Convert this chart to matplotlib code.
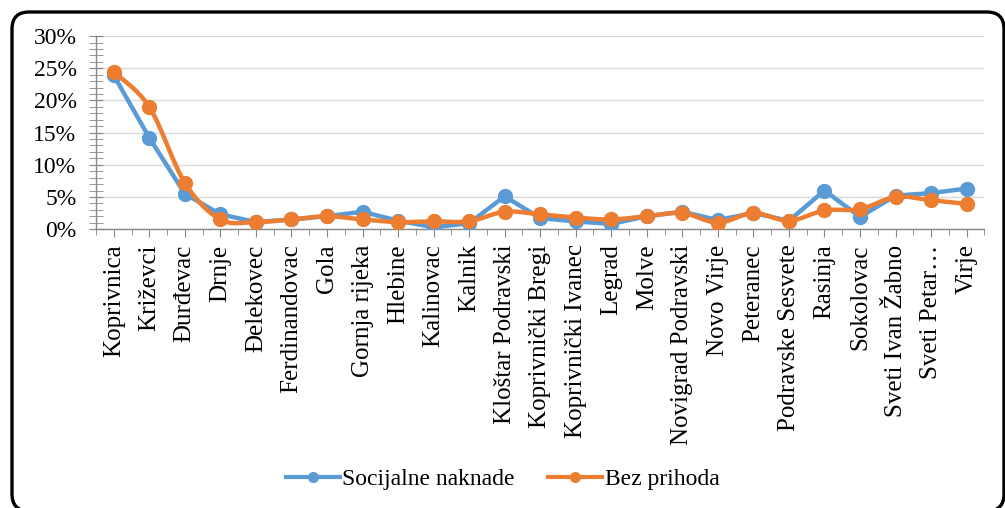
import matplotlib
matplotlib.use("Agg")
import matplotlib.pyplot as plt
from matplotlib.path import Path
from matplotlib.patches import PathPatch, FancyBboxPatch
from matplotlib.lines import Line2D
from matplotlib.ticker import PercentFormatter, MultipleLocator
import numpy as np

# Udio (%) po općinama / gradovima
municipalities = ["Koprivnica", "Križevci", "Đurđevac", "Drnje", "Đelekovec",
                  "Ferdinandovac", "Gola", "Gornja rijeka", "Hlebine", "Kalinovac",
                  "Kalnik", "Kloštar Podravski", "Koprivnički Bregi", "Koprivnički Ivanec",
                  "Legrad", "Molve", "Novigrad Podravski", "Novo Virje", "Peteranec",
                  "Podravske Sesvete", "Rasinja", "Sokolovac", "Sveti Ivan Žabno",
                  "Sveti Petar…", "Virje"]
socijalne = [23.9, 14.2, 5.5, 2.3, 1.1, 1.5, 2.0, 2.7, 1.3, 0.3, 0.9, 5.1, 1.7,
             1.2, 0.8, 2.0, 2.7, 1.4, 2.5, 1.3, 6.0, 1.9, 5.2, 5.6, 6.3]
bez_prihoda = [24.4, 19.0, 7.2, 1.5, 1.1, 1.5, 2.0, 1.5, 1.1, 1.2, 1.2, 2.7, 2.3,
               1.8, 1.5, 2.0, 2.5, 1.0, 2.5, 1.3, 2.9, 3.1, 5.0, 4.5, 3.9]
series_names = ["Socijalne naknade", "Bez prihoda"]

BLUE = "#5B9BD5"
ORANGE = "#ED7D31"

plt.rcParams["font.family"] = ["Liberation Serif", "DejaVu Serif"]


def smooth_path(xs, ys):
    # Excel-like smoothed line: cubic Bezier through the data points
    pts = np.column_stack([xs, ys]).astype(float)
    n = len(pts)
    verts = [pts[0]]
    codes = [Path.MOVETO]
    for i in range(n - 1):
        p0 = pts[max(i - 1, 0)]
        p1 = pts[i]
        p2 = pts[i + 1]
        p3 = pts[min(i + 2, n - 1)]
        c1 = p1 + (p2 - p0) / 6.0
        c2 = p2 - (p3 - p1) / 6.0
        verts += [c1, c2, p2]
        codes += [Path.CURVE4] * 3
    return Path(verts, codes)


fig = plt.figure(figsize=(10.05, 5.08), dpi=100)
ax = fig.add_axes([0.0955, 0.549, 0.884, 0.380])

x = np.arange(len(municipalities))

ax.plot(x, socijalne, color=BLUE, lw=3.2, marker="o", ms=10, zorder=3,
        solid_joinstyle="round", solid_capstyle="round")
ax.add_patch(PathPatch(smooth_path(x, bez_prihoda), facecolor="none",
                       edgecolor=ORANGE, lw=3.2, capstyle="round", zorder=4))
ax.plot(x, bez_prihoda, color=ORANGE, linestyle="none", marker="o", ms=10, zorder=5)

ax.set_xlim(-0.5, len(municipalities) - 0.5)
ax.set_ylim(0, 30)
ax.yaxis.set_major_locator(MultipleLocator(5))
ax.yaxis.set_minor_locator(MultipleLocator(1))
ax.yaxis.set_major_formatter(PercentFormatter(xmax=100, decimals=0))
ax.grid(axis="y", which="major", color="#D9D9D9", lw=1)
ax.set_axisbelow(True)

ax.set_xticks(x)
ax.set_xticks(np.arange(-0.5, len(municipalities)), minor=True)
ax.set_xticklabels(municipalities, rotation=90, fontsize=18)

for s in ["top", "right"]:
    ax.spines[s].set_visible(False)
for s in ["left", "bottom"]:
    ax.spines[s].set_color("#868686")
    ax.spines[s].set_linewidth(1)

ax.tick_params(axis="y", which="both", direction="inout", length=10, color="#868686",
               labelsize=17, pad=9)
ax.tick_params(axis="x", which="major", direction="out", length=6, color="#868686", pad=5)
ax.tick_params(axis="x", which="minor", direction="out", length=4, color="#868686")

handles = [Line2D([], [], color=BLUE, lw=3, marker="o", ms=7),
           Line2D([], [], color=ORANGE, lw=3, marker="o", ms=7)]
fig.legend(handles, series_names, loc="center", bbox_to_anchor=(0.5, 0.057),
           ncol=2, frameon=False, fontsize=17, handlelength=2.3,
           columnspacing=1.4, handletextpad=0.1)

frame = FancyBboxPatch((0.12, -0.03), 9.92, 4.99,
                       boxstyle="round,pad=0,rounding_size=0.17",
                       transform=fig.dpi_scale_trans, facecolor="none",
                       edgecolor="black", lw=2.4, clip_on=False)
fig.patches.append(frame)

fig.savefig("out.png", dpi=100)
